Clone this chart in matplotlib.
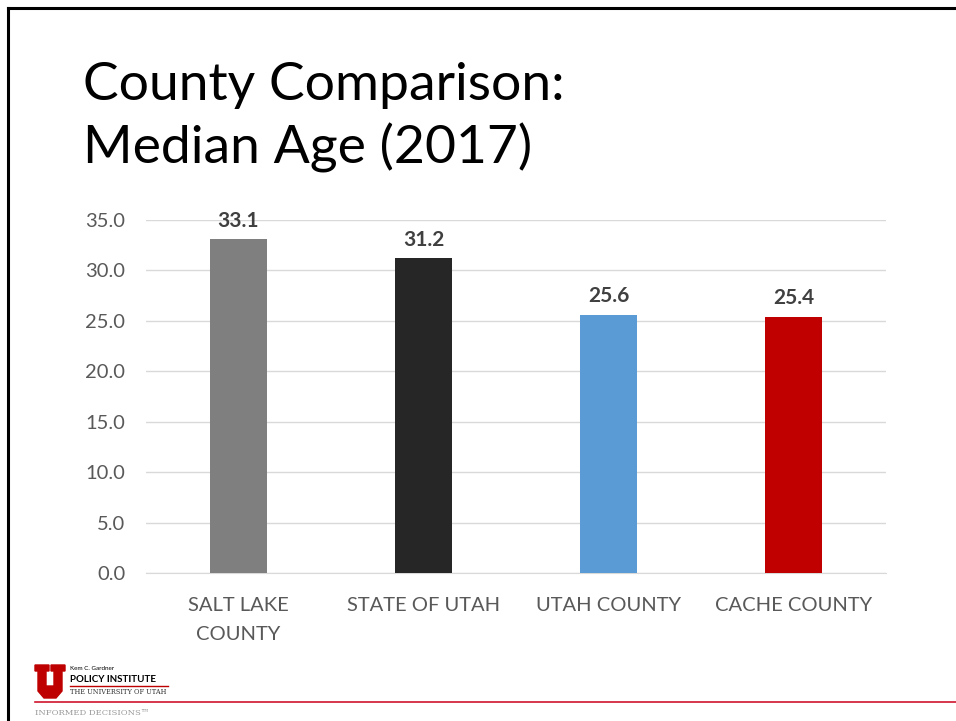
import matplotlib.pyplot as plt
from matplotlib.patches import Polygon
from matplotlib.lines import Line2D

# data
categories = ["SALT LAKE\nCOUNTY", "STATE OF UTAH", "UTAH COUNTY", "CACHE COUNTY"]
median_age = [33.1, 31.2, 25.6, 25.4]
bar_colors = ["#7f7f7f", "#262626", "#5b9bd5", "#c00000"]
y_ticks = [0, 5, 10, 15, 20, 25, 30, 35]

plt.rcParams['font.family'] = ['Lato', 'DejaVu Sans']

fig = plt.figure(figsize=(9.56, 7.21), dpi=100)
W, H = 956, 721

# slide frame
fig.add_artist(Line2D([8 / W, 1], [1 - 8 / H, 1 - 8 / H], color="black", lw=2.2))
fig.add_artist(Line2D([8 / W, 8 / W], [0, 1 - 8 / H], color="black", lw=2.2))

# title
fig.text(83 / W, 1 - 62 / H, "County Comparison:\nMedian Age (2017)", fontsize=38.5,
         fontweight="normal", va="top", ha="left", linespacing=1.33, color="black")

ax = fig.add_axes([146 / W, 148 / H, 740 / W, 353 / H])
x = range(len(categories))
bars = ax.bar(x, median_age, width=0.31, color=bar_colors, zorder=3)
for rect, v in zip(bars, median_age):
    ax.annotate(f"{v:.1f}", (rect.get_x() + rect.get_width() / 2, v),
                xytext=(0, 6), textcoords="offset points", ha="center", va="bottom",
                fontsize=15, fontweight="bold", color="#404040", annotation_clip=False)

ax.set_xlim(-0.5, 3.5)
ax.set_ylim(0, 35)
ax.set_yticks(y_ticks)
ax.set_yticklabels([f"{t:.1f}" for t in y_ticks])
ax.set_xticks(list(x))
ax.set_xticklabels(categories, linespacing=1.9)
ax.tick_params(axis="both", length=0, labelsize=14.5, labelcolor="#595959")
ax.tick_params(axis="y", pad=15)
ax.tick_params(axis="x", pad=17)
ax.grid(axis="y", color="#d9d9d9", lw=1, zorder=0)
for side in ["top", "right", "left"]:
    ax.spines[side].set_visible(False)
ax.spines["bottom"].set_color("#d9d9d9")
ax.set_axisbelow(True)

# footer logo
u_outer = [(35, 665), (49, 665), (49, 671), (46, 671), (46, 686), (54, 686), (54, 671),
           (51, 671), (51, 665), (65, 665), (65, 671), (62, 671), (62, 691), (56, 698),
           (44, 698), (38, 691), (38, 671), (35, 671)]
fig.add_artist(Polygon([(px / W, 1 - py / H) for px, py in u_outer], closed=True,
                       color="#be0000", transform=fig.transFigure))
fig.text(70 / W, 1 - 669 / H, "Kem C. Gardner", fontsize=4.5, color="black", va="center")
fig.text(70 / W, 1 - 680 / H, "POLICY INSTITUTE", fontsize=7, fontweight="bold",
         color="black", va="center")
fig.add_artist(Line2D([70 / W, 168 / W], [1 - 686 / H, 1 - 686 / H], color="#be0000", lw=1))
fig.text(70 / W, 1 - 692 / H, "THE UNIVERSITY OF UTAH", fontsize=4.8, family="DejaVu Serif",
         color="#333333", va="center")
fig.add_artist(Line2D([35 / W, 1], [1 - 702 / H, 1 - 702 / H], color="#d0142c", lw=1.2))
fig.text(35 / W, 1 - 713 / H, "INFORMED DECISIONS\u2122", fontsize=6, color="#999999",
         va="center", family="DejaVu Serif")

fig.savefig("out.png", dpi=100)
